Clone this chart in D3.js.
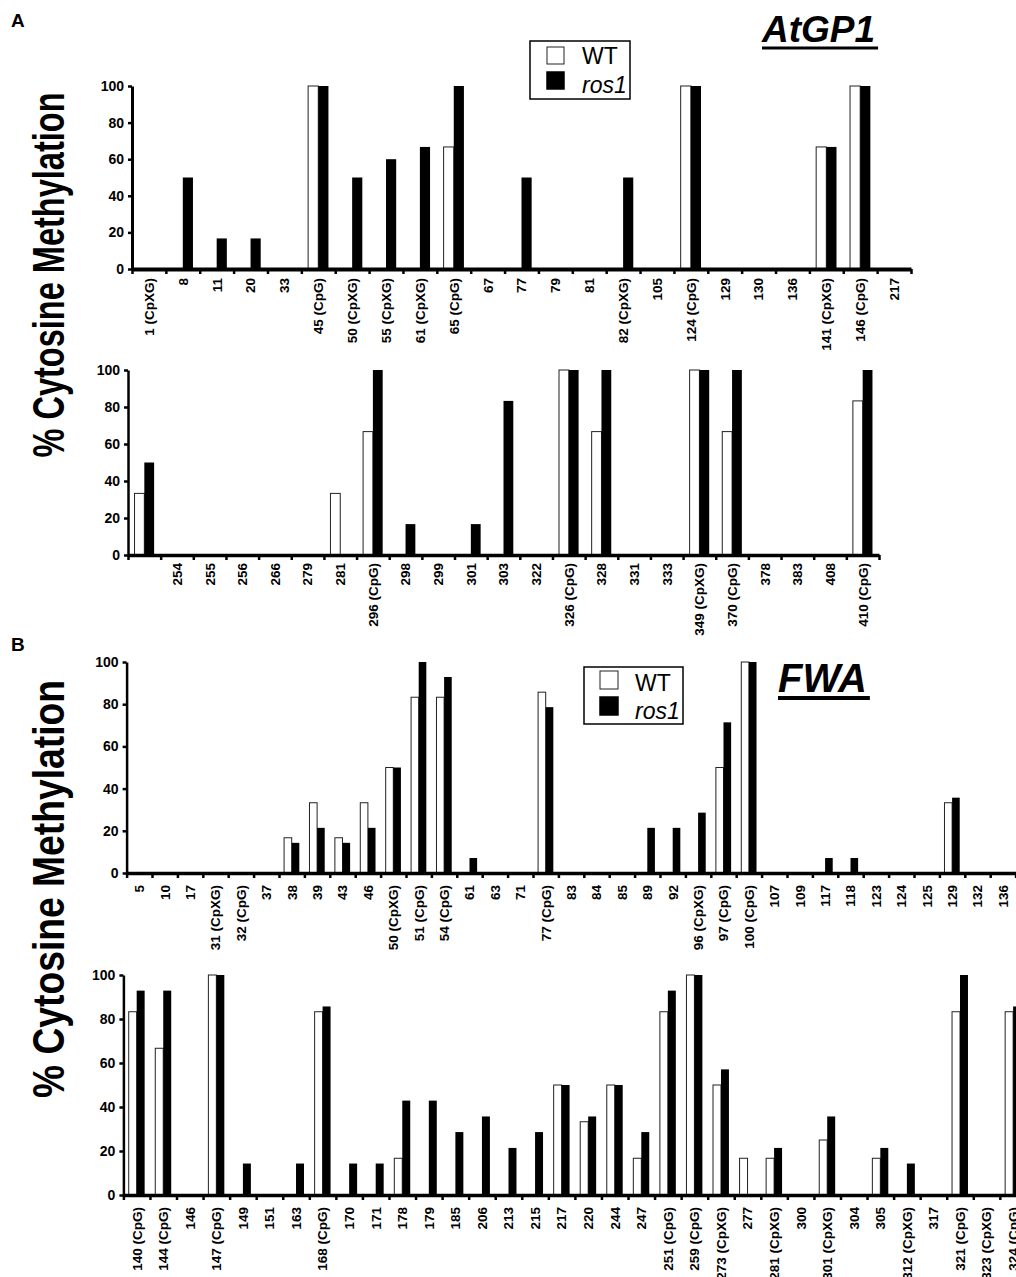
<!DOCTYPE html>
<html lang="en">
<head>
<meta charset="UTF-8">
<title>Cytosine methylation - AtGP1 / FWA</title>
<script src="https://d3js.org/d3.v7.min.js"></script>
<style>
  body { margin: 0; background: #fff; }
  svg { display: block; font-family: Arial, "Liberation Sans", sans-serif; }
  .tick text { font-weight: bold; fill: #000; }
  .wt { fill: #fff; stroke: #222; stroke-width: 1; }
  .ros { fill: #000; }
</style>
</head>
<body>
<div id="chart"></div>
<script>
// ---- data ----
var atgpTopSites = ["1 (CpXG)","8","11","20","33","45 (CpG)","50 (CpXG)","55 (CpXG)","61 (CpXG)","65 (CpG)","67","77","79","81","82 (CpXG)","105","124 (CpG)","129","130","136","141 (CpXG)","146 (CpG)","217"];
var atgpTopWT   = [0,0,0,0,0,100,0,0,0,66.7,0,0,0,0,0,0,100,0,0,0,66.7,100,0];
var atgpTopRos1 = [0,50,16.7,16.7,0,100,50,60,66.7,100,0,50,0,0,50,0,100,0,0,0,66.7,100,0];

var atgpBotSites = ["","254","255","256","266","279","281","296 (CpG)","298","299","301","303","322","326 (CpG)","328","331","333","349 (CpXG)","370 (CpG)","378","383","408","410 (CpG)"];
var atgpBotWT   = [33.3,0,0,0,0,0,33.3,66.7,0,0,0,0,0,100,66.7,0,0,100,66.7,0,0,0,83.3];
var atgpBotRos1 = [50,0,0,0,0,0,0,100,16.7,0,16.7,83.3,0,100,100,0,0,100,100,0,0,0,100];

var fwaTopSites = ["5","10","17","31 (CpXG)","32 (CpG)","37","38","39","43","46","50 (CpXG)","51 (CpG)","54 (CpG)","61","63","71","77 (CpG)","83","84","85","89","92","96 (CpXG)","97 (CpG)","100 (CpG)","107","109","117","118","123","124","125","129","132","136"];
var fwaTopWT   = [0,0,0,0,0,0,16.7,33.3,16.7,33.3,50,83.3,83.3,0,0,0,85.7,0,0,0,0,0,0,50,100,0,0,0,0,0,0,0,33.3,0,0];
var fwaTopRos1 = [0,0,0,0,0,0,14.3,21.4,14.3,21.4,50,100,92.9,7.1,0,0,78.6,0,0,0,21.4,21.4,28.6,71.4,100,0,0,7.1,7.1,0,0,0,35.7,0,0];

var fwaBotSites = ["140 (CpG)","144 (CpG)","146","147 (CpG)","149","151","163","168 (CpG)","170","171","178","179","185","206","213","215","217","220","244","247","251 (CpG)","259 (CpG)","273 (CpXG)","277","281 (CpXG)","300","301 (CpXG)","304","305","312 (CpXG)","317","321 (CpG)","323 (CpXG)","324 (CpG)"];
var fwaBotWT   = [83.3,66.7,0,100,0,0,0,83.3,0,0,16.7,0,0,0,0,0,50,33.3,50,16.7,83.3,100,50,16.7,16.7,0,25,0,16.7,0,0,83.3,0,83.3];
var fwaBotRos1 = [92.9,92.9,0,100,14.3,0,14.3,85.7,14.3,14.3,42.9,42.9,28.6,35.7,21.4,28.6,50,35.7,50,28.6,92.9,100,57.1,0,21.4,0,35.7,0,21.4,14.3,0,100,0,85.7];

var yTicks = [0,20,40,60,80,100];
var seriesNames = ["WT","ros1"];

// ---- page ----
var W = 1016, H = 1277;
var svg = d3.select("#chart").append("svg")
  .attr("width", W).attr("height", H);

// one panel = one small bar chart
function drawPanel(sites, wt, ros, box) {
  var g = svg.append("g")
    .attr("transform", "translate(" + box.left + "," + box.top + ")");
  var h = box.bottom - box.top;
  var n = sites.length;
  var idx = d3.range(n);

  var x = d3.scaleBand().domain(idx).range([0, box.width]).padding(0);
  var xEdge = d3.scaleLinear().domain([0, n]).range([0, box.width]);
  var y = d3.scaleLinear().domain([0, 100]).range([h, 0]);
  var bw = x.bandwidth() * 0.3;

  // bars (zero values draw nothing)
  g.selectAll(".wt").data(idx.filter(function(i){ return wt[i] > 0; }))
    .enter().append("rect")
      .attr("class", "wt")
      .attr("x", function(i){ return x(i) + x.bandwidth()/2 - bw; })
      .attr("y", function(i){ return y(wt[i]); })
      .attr("width", bw)
      .attr("height", function(i){ return h - y(wt[i]); });
  g.selectAll(".ros").data(idx.filter(function(i){ return ros[i] > 0; }))
    .enter().append("rect")
      .attr("class", "ros")
      .attr("x", function(i){ return x(i) + x.bandwidth()/2; })
      .attr("y", function(i){ return y(ros[i]); })
      .attr("width", bw)
      .attr("height", function(i){ return h - y(ros[i]); });

  // y axis
  var ya = g.append("g")
    .call(d3.axisLeft(y).tickValues(yTicks).tickSize(4).tickSizeOuter(0).tickPadding(4));
  ya.select(".domain").attr("stroke-width", box.axisW);
  ya.selectAll(".tick line").attr("stroke-width", 2.5);
  ya.selectAll(".tick text").style("font-size", "14px");

  // x axis: tick marks on the site boundaries
  var xa = g.append("g")
    .attr("transform", "translate(0," + h + ")")
    .call(d3.axisBottom(xEdge).tickValues(d3.range(n + 1)).tickFormat("").tickSize(5).tickSizeOuter(0));
  xa.select(".domain").attr("stroke-width", box.axisW + 1);
  xa.selectAll(".tick line").attr("stroke-width", 2.5);

  // x labels, rotated
  var xl = g.append("g")
    .attr("transform", "translate(0," + h + ")")
    .call(d3.axisBottom(x).tickSize(0).tickFormat(function(i){ return sites[i]; }));
  xl.select(".domain").remove();
  xl.selectAll(".tick text")
    .style("font-size", "13.5px")
    .style("text-anchor", "end")
    .attr("x", -box.labelGap)
    .attr("y", 0)
    .attr("dy", ".36em")
    .attr("transform", "rotate(-90)");
}

drawPanel(atgpTopSites, atgpTopWT, atgpTopRos1, {left: 132, top: 86, bottom: 269, width: 779, axisW: 3, labelGap: 9});
drawPanel(atgpBotSites, atgpBotWT, atgpBotRos1, {left: 128, top: 370, bottom: 555, width: 751, axisW: 2.5, labelGap: 8});
drawPanel(fwaTopSites, fwaTopWT, fwaTopRos1, {left: 126.6, top: 662, bottom: 873, width: 889, axisW: 2.5, labelGap: 12});
drawPanel(fwaBotSites, fwaBotWT, fwaBotRos1, {left: 123.4, top: 975, bottom: 1195, width: 903, axisW: 2.5, labelGap: 12});

// big y titles
function yTitle(cy, len) {
  svg.append("text")
    .attr("transform", "translate(64," + cy + ") rotate(-90)")
    .attr("text-anchor", "middle")
    .attr("textLength", len)
    .attr("lengthAdjust", "spacingAndGlyphs")
    .style("font-size", "45px")
    .style("font-weight", "bold")
    .text("% Cytosine Methylation");
}
yTitle(275, 365);
yTitle(889, 418);

// panel letters
svg.append("text").attr("x", 11).attr("y", 27)
  .style("font-size", "19px").style("font-weight", "bold").text("A");
svg.append("text").attr("x", 11).attr("y", 651)
  .style("font-size", "19px").style("font-weight", "bold").text("B");

// gene titles, underlined
function geneTitle(name, x0, y0, size, ulW) {
  var t = svg.append("text").attr("x", x0).attr("y", y0)
    .style("font-size", size + "px")
    .style("font-weight", "bold")
    .style("font-style", "italic")
    .text(name);
  var len = t.node().getComputedTextLength();
  svg.append("line")
    .attr("x1", x0).attr("x2", x0 + len + 3)
    .attr("y1", y0 + 6).attr("y2", y0 + 6)
    .attr("stroke", "#000").attr("stroke-width", ulW);
}
geneTitle("AtGP1", 762, 42, 37, 3);
geneTitle("FWA", 778, 692, 40, 4);

// legends
function legend(bx, by, bwid, bh, sq, sqx, rows, tx, base) {
  var lg = svg.append("g");
  lg.append("rect").attr("x", bx).attr("y", by).attr("width", bwid).attr("height", bh)
    .attr("fill", "#fff").attr("stroke", "#000").attr("stroke-width", 1.5);
  seriesNames.forEach(function(s, k) {
    lg.append("rect")
      .attr("x", sqx).attr("y", rows[k]).attr("width", sq).attr("height", sq)
      .attr("class", k === 0 ? "wt" : "ros")
      .attr("stroke-width", 1.5).attr("stroke", "#000");
    lg.append("text").attr("x", tx).attr("y", base[k])
      .style("font-size", "23px")
      .style("font-style", k === 0 ? "normal" : "italic")
      .text(s);
  });
}
legend(530, 41, 100, 58, 17, 547, [47, 72], 582, [64, 93]);
legend(584, 667, 99, 57, 18, 600, [671, 697], 635, [691, 719]);
</script>
</body>
</html>
